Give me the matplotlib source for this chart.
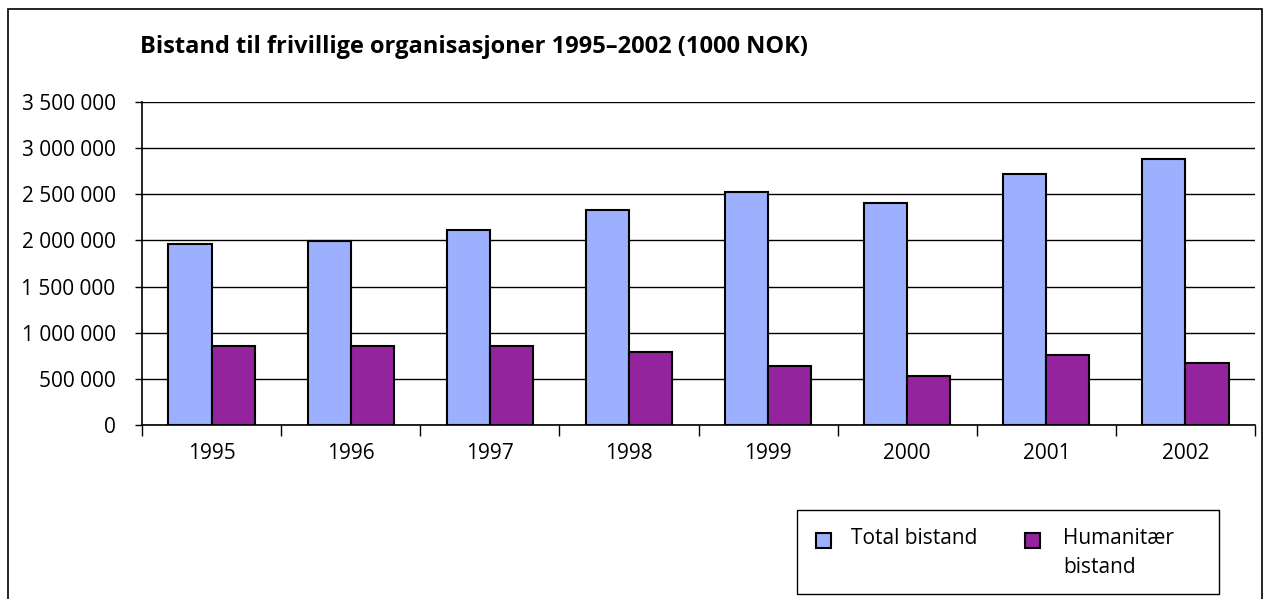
import matplotlib.pyplot as plt
import numpy as np
from matplotlib.patches import Rectangle
from matplotlib.ticker import FuncFormatter

plt.rcParams['font.family'] = ['Open Sans', 'DejaVu Sans']

years = ['1995', '1996', '1997', '1998', '1999', '2000', '2001', '2002']
total_bistand = [1960000, 1995000, 2108000, 2335000, 2529000, 2406000, 2723000, 2883000]
humanitaer_bistand = [856000, 856000, 858000, 791000, 640000, 532000, 763000, 673000]
series_labels = ['Total bistand', 'Humanitær\nbistand']
colors = ['#9DB0FF', '#93249D']

W, H = 1271, 599
fig = plt.figure(figsize=(W / 100, H / 100), dpi=100)
ax = fig.add_axes([142 / W, 1 - 425 / H, (1255 - 142) / W, (425 - 102) / H])

x = np.arange(len(years))
w = 0.31
ax.bar(x - w / 2, total_bistand, w, color=colors[0], edgecolor='black', linewidth=1.5, zorder=3)
ax.bar(x + w / 2, humanitaer_bistand, w, color=colors[1], edgecolor='black', linewidth=1.5, zorder=3)

ax.set_xlim(-0.5, len(years) - 0.5)
ax.set_ylim(0, 3500000)
ax.set_yticks(np.arange(0, 3500001, 500000))
ax.yaxis.set_major_formatter(FuncFormatter(lambda v, p: f'{int(v):,}'.replace(',', ' ')))
ax.set_xticks(x)
ax.set_xticklabels(years)
ax.set_xticks(np.arange(-0.5, len(years), 1), minor=True)
ax.tick_params(axis='x', which='major', length=0, pad=13, labelsize=15)
ax.tick_params(axis='x', which='minor', length=8, width=1, direction='out')
ax.tick_params(axis='y', length=5, width=1, labelsize=15, pad=14)
ax.yaxis.grid(True, color='black', linewidth=1, zorder=0)

for s in ['top', 'right']:
    ax.spines[s].set_visible(False)
for s in ['left', 'bottom']:
    ax.spines[s].set_linewidth(1.2)

fig.text(140 / W, 1 - 47 / H, 'Bistand til frivillige organisasjoner 1995–2002 (1000 NOK)',
         fontsize=17, fontweight='bold', va='center', ha='left')

# legend box drawn by hand so the entries sit like in the original
fig.add_artist(Rectangle((797 / W, 1 - 594 / H), (1219 - 797) / W, (594 - 510) / H,
                         transform=fig.transFigure, fill=False, edgecolor='black', linewidth=1))
for mx, tx, lab, c in zip([816, 1025], [851, 1063], series_labels, colors):
    fig.add_artist(Rectangle((mx / W, 1 - 548 / H), 15 / W, 15 / H, transform=fig.transFigure,
                             facecolor=c, edgecolor='black', linewidth=1.5))
    fig.text(tx / W, 1 - 528 / H, lab, fontsize=15, va='top', ha='left', linespacing=1.5)

fig.add_artist(Rectangle((8 / W, -0.1), (1262 - 8) / W, 1.1 - 9 / H,
                         transform=fig.transFigure, fill=False, edgecolor='black', linewidth=1.2))

fig.savefig('out.png', dpi=100)
